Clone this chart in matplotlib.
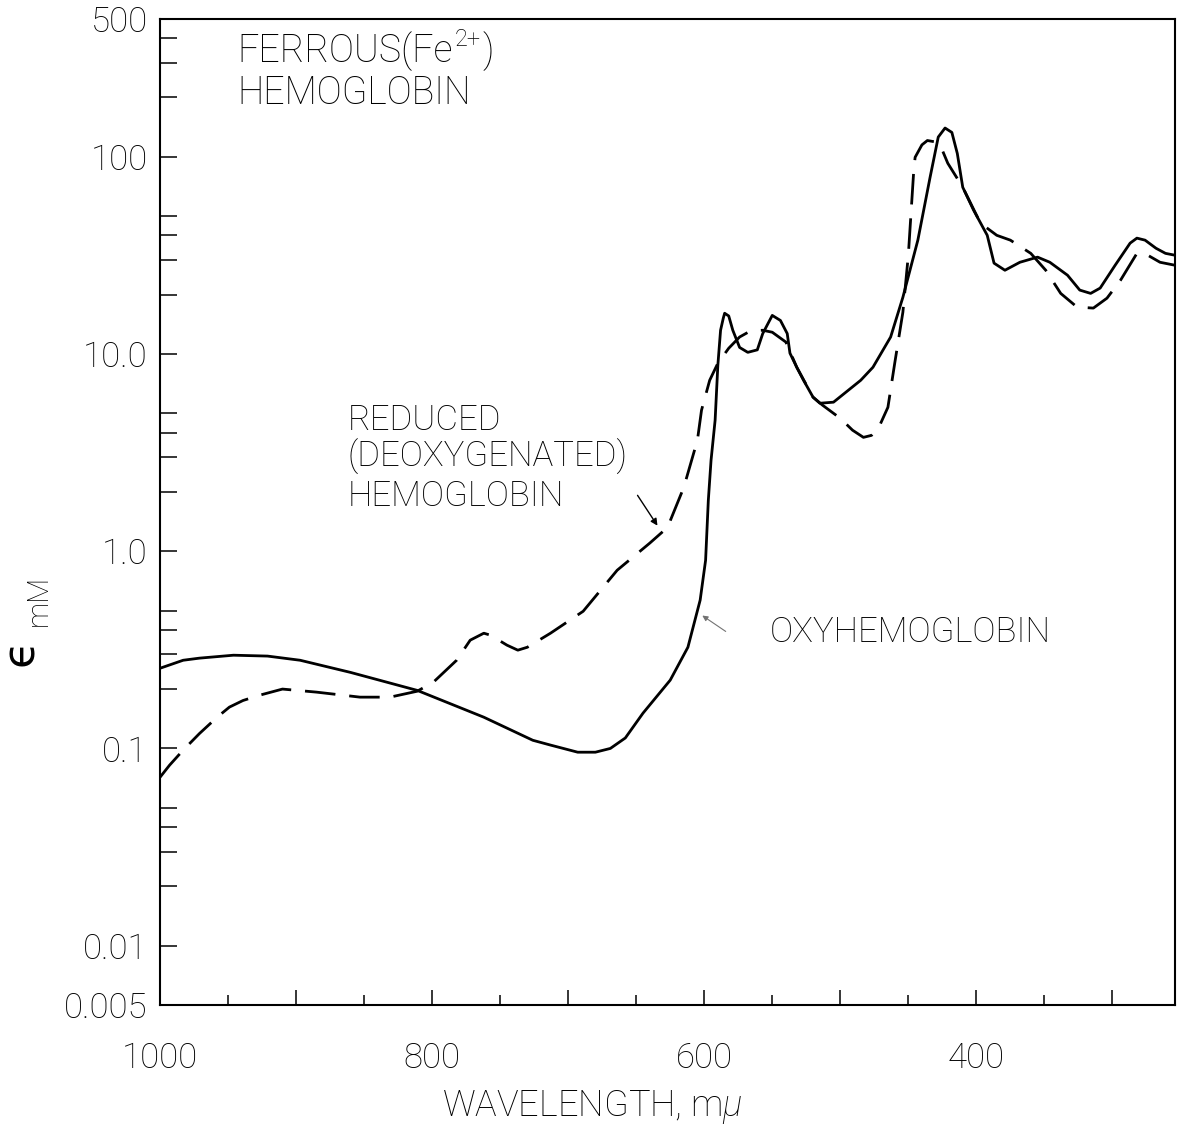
import matplotlib
matplotlib.use("Agg")
import matplotlib.pyplot as plt
from matplotlib.ticker import FixedLocator, FixedFormatter, NullFormatter

plt.rcParams['font.family'] = ['Roboto', 'DejaVu Sans']
plt.rcParams['font.weight'] = 'light'
plt.rcParams['mathtext.fontset'] = 'custom'
plt.rcParams['mathtext.rm'] = 'Roboto'
plt.rcParams['mathtext.it'] = 'Roboto:italic'

# ---- data ----
oxy_wl = [1000, 983, 971, 946, 921, 897, 860, 811, 762, 726, 713, 693, 680, 669, 658,
          645, 625, 612, 603, 599, 597, 595, 592, 590, 588, 586, 585, 582, 579, 574,
          568, 561, 557, 550, 544, 539, 537, 532, 527, 520, 515, 505, 485, 476, 463,
          454, 443, 434, 428, 423, 418, 414, 410, 402, 392, 387, 379, 368, 355, 346,
          333, 324, 316, 309, 298, 287, 282, 276, 268, 261, 254]
oxy_eps = [0.255, 0.280, 0.287, 0.297, 0.294, 0.280, 0.243, 0.197, 0.144, 0.110, 0.104,
           0.0957, 0.0957, 0.100, 0.113, 0.151, 0.222, 0.326, 0.565, 0.90, 1.81, 2.89,
           4.62, 8.77, 13.2, 15.2, 16.1, 15.6, 13.2, 10.8, 10.2, 10.5, 12.7, 15.7, 14.8,
           12.7, 10.1, 8.57, 7.36, 6.04, 5.63, 5.70, 7.36, 8.57, 12.2, 19.4, 37.8, 78.8,
           126, 140, 133, 104, 70.1, 53.6, 40.0, 28.9, 26.6, 29.2, 31.0, 29.2, 25.1,
           21.1, 20.3, 21.6, 28.2, 36.5, 38.7, 37.8, 34.4, 32.4, 31.7]

deoxy_wl = [1000, 993, 983, 971, 958, 949, 939, 927, 910, 885, 853, 831, 811, 799, 782,
            772, 762, 757, 745, 737, 730, 713, 689, 664, 640, 627, 615, 605, 602, 596,
            590, 582, 574, 566, 557, 550, 540, 532, 520, 513, 500, 491, 483, 477, 471,
            465, 460, 454, 450, 446, 445, 440, 436, 430, 425, 421, 410, 397, 385, 375,
            360, 349, 338, 326, 314, 304, 294, 282, 274, 265, 254]
deoxy_eps = [0.0714, 0.0822, 0.098, 0.119, 0.144, 0.162, 0.175, 0.186, 0.200, 0.193,
             0.182, 0.182, 0.195, 0.217, 0.280, 0.354, 0.384, 0.375, 0.334, 0.315,
             0.326, 0.384, 0.496, 0.801, 1.10, 1.32, 2.11, 3.66, 5.19, 7.36, 8.98, 10.7,
             12.2, 13.1, 13.2, 12.9, 11.5, 8.57, 6.04, 5.50, 4.72, 4.11, 3.78, 3.87,
             4.35, 5.37, 8.98, 16.3, 31.7, 85.5, 99.5, 115, 121, 119, 108, 92.8, 70.1,
             46.1, 40.0, 37.8, 32.4, 26.6, 20.3, 17.3, 17.1, 19.2, 23.7, 32.4, 31.7,
             29.2, 28.2]

x_major = [1000, 900, 800, 700, 600, 500, 400, 300]
x_labels = ['1000', '', '800', '', '600', '', '400', '']
x_minor = [950, 850, 750, 650, 550, 450, 350]
y_major = [0.005, 0.01, 0.1, 1, 10, 100, 500]
y_labels = ['0.005', '0.01', '0.1', '1.0', '10.0', '100', '500']
y_minor = [0.02, 0.03, 0.04, 0.05, 0.2, 0.3, 0.4, 0.5, 2, 3, 4, 5,
           20, 30, 40, 50, 200, 300, 400]

W, H = 1178, 1131
fig = plt.figure(figsize=(W / 100, H / 100), dpi=100)
ax = fig.add_axes([160 / W, 1 - 1005 / H, (1175 - 160) / W, (1005 - 19) / H])

ax.plot(oxy_wl, oxy_eps, color='black', lw=2.0, solid_capstyle='round',
        solid_joinstyle='round')
ax.plot(deoxy_wl, deoxy_eps, color='black', lw=2.0, linestyle=(0, (11, 5)),
        dash_joinstyle='round')

ax.set_yscale('log')
ax.set_xlim(1000, 254)
ax.set_ylim(0.005, 500)

ax.xaxis.set_major_locator(FixedLocator(x_major))
ax.xaxis.set_major_formatter(FixedFormatter(x_labels))
ax.xaxis.set_minor_locator(FixedLocator(x_minor))
ax.yaxis.set_major_locator(FixedLocator(y_major))
ax.yaxis.set_major_formatter(FixedFormatter(y_labels))
ax.yaxis.set_minor_locator(FixedLocator(y_minor))
ax.yaxis.set_minor_formatter(NullFormatter())

ax.tick_params(axis='x', which='major', direction='in', length=11, width=1.1,
               labelsize=25, pad=26)
ax.tick_params(axis='x', which='minor', direction='in', length=7, width=1.1)
ax.tick_params(axis='y', which='both', direction='in', length=12, width=1.1,
               labelsize=25, pad=9)
for s in ax.spines.values():
    s.set_linewidth(1.5)


def fx(px):
    return px / W


def fy(py):
    return 1 - py / H


# title with hand-placed superscript
renderer = fig.canvas.get_renderer()
t1 = fig.text(fx(237), fy(62), 'FERROUS(Fe', fontsize=27, va='baseline', ha='left')
bb = t1.get_window_extent(renderer)
t2 = fig.text(bb.x1 / W + 0.002, fy(46), '2+', fontsize=17, va='baseline', ha='left')
bb2 = t2.get_window_extent(renderer)
fig.text(bb2.x1 / W + 0.001, fy(62), ')', fontsize=27, va='baseline', ha='left')
fig.text(fx(237), fy(104), 'HEMOGLOBIN', fontsize=27, va='baseline', ha='left')

fig.text(fx(348), fy(430), 'REDUCED', fontsize=25, va='baseline', ha='left')
fig.text(fx(348), fy(467), '(DEOXYGENATED)', fontsize=25, va='baseline', ha='left')
fig.text(fx(348), fy(506), 'HEMOGLOBIN', fontsize=25, va='baseline', ha='left')
fig.text(fx(770), fy(642), 'OXYHEMOGLOBIN', fontsize=25, va='baseline', ha='left')

ax.annotate('', xy=(fx(659), fy(528)), xytext=(fx(636), fy(493)),
            xycoords='figure fraction', textcoords='figure fraction',
            arrowprops=dict(arrowstyle='-|>', color='black', lw=1.0,
                            mutation_scale=10))
ax.annotate('', xy=(fx(700), fy(614)), xytext=(fx(728), fy(633)),
            xycoords='figure fraction', textcoords='figure fraction',
            arrowprops=dict(arrowstyle='-|>', color='0.45', lw=0.8,
                            mutation_scale=8))

fig.text(fx(592), fy(1107), r'WAVELENGTH, m$\mu$', fontsize=26, ha='center', va='center')
fig.text(fx(21), fy(652), '\u03f5', fontsize=32, rotation=90, ha='center', va='center',
         family=['DejaVu Sans'], fontweight='normal')
fig.text(fx(39), fy(600), 'mM', fontsize=21, rotation=90, ha='center', va='center')

fig.savefig('out.png', dpi=100, facecolor='white')
